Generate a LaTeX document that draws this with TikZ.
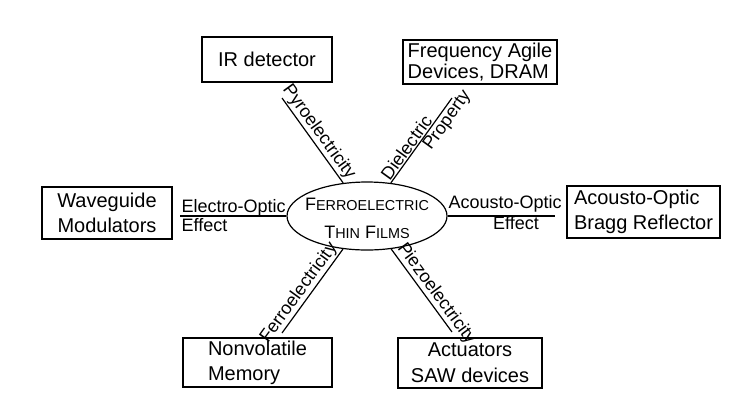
\documentclass[tikz,border=0pt]{standalone}
\usepackage{fontspec}
\setmainfont{Liberation Sans}
\usetikzlibrary{shapes.geometric}
\newcommand{\fakesc}[2]{#1{\fontsize{14.4}{16}\selectfont #2}}
\begin{document}
\begin{tikzpicture}[x=1pt,y=-1pt,line width=1.2pt,
  box/.style={draw,rectangle,align=left,inner sep=0pt,font=\fontsize{20}{25}\selectfont},
  lbl/.style={font=\fontsize{18}{20}\selectfont,inner sep=1pt},
  hub/.style={draw,ellipse,minimum width=160pt,minimum height=68pt,inner sep=0pt}]
\useasboundingbox (0,0) rectangle (745,397);
\fill[white] (0,0) rectangle (745,397);

% centre
\node[hub] (ell) at (367,216) {};
\node[font=\fontsize{18}{28}\selectfont,align=center] (title) at (367,218)
  {\fakesc{F}{ERROELECTRIC}\\\fakesc{T}{HIN} \fakesc{F}{ILMS}};

% boxes
\node[box,minimum width=130pt,minimum height=45pt] (ir) at (267,59.5) {IR detector};
\node[box,minimum width=154pt,minimum height=44pt,font=\fontsize{20}{21.5}\selectfont] (fa) at (480,62) {Frequency Agile\\Devices, DRAM};
\node[box,minimum width=130pt,minimum height=52pt,align=center] (wg) at (107,213) {Waveguide\\Modulators};
\node[box,minimum width=153pt,minimum height=52pt] (ab) at (643.5,212) {Acousto-Optic\\Bragg Reflector};
\node[box,minimum width=149pt,minimum height=49pt] (nv) at (257.5,362.5) {Nonvolatile\\Memory};
\node[box,minimum width=144pt,minimum height=50pt,align=center,font=\fontsize{20}{26}\selectfont] (ac) at (470,363) {Actuators\\SAW devices};

% free ends of connectors
\coordinate (pyT) at (282,98);
\coordinate (diT) at (452,98);
\coordinate (feB) at (282,333);
\coordinate (piB) at (452,332);
\coordinate (emL) at (180,216);
\coordinate (aoR) at (555,216);

% connectors
\draw (pyT) -- (ell) node[pos=0.47,sloped,above,lbl] {Pyroelectricity};
\draw (ell) -- (diT)
  node[pos=0.36,sloped,above,lbl] {Dielectric}
  node[pos=0.8,sloped,below,lbl] {Property};
\draw (feB) -- (ell) node[pos=0.41,sloped,above,lbl] {Ferroelectricity};
\draw (ell) -- (piB) node[pos=0.61,sloped,above,lbl] {Piezoelectricity};
\draw (emL) -- (ell);
\draw (ell) -- (aoR);

% horizontal labels
\node[lbl,anchor=base west] (eo1) at (180,212) {Electro-Optic};
\node[lbl,anchor=base west] (eo2) at (180,231) {Effect};
\node[lbl,anchor=base west] (ao1) at (447,208) {Acousto-Optic};
\node[lbl,anchor=base] (ao2) at (516,229) {Effect};
\end{tikzpicture}
\end{document}
